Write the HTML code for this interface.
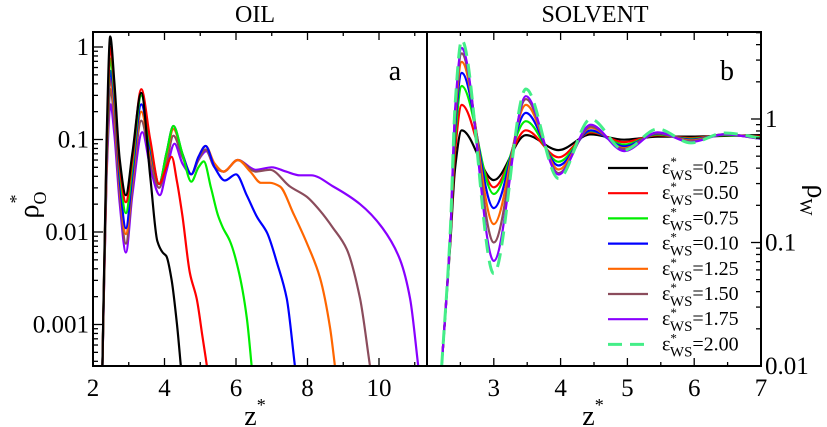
<!DOCTYPE html>
<html><head><meta charset="utf-8"><style>
html,body{margin:0;padding:0;background:#fff}
svg{display:block}
svg text{font-family:"Liberation Serif","DejaVu Serif",serif}
</style></head><body>
<svg id="chart" width="827" height="427" viewBox="0 0 827 427">
<defs>
<clipPath id="clipA"><rect x="93" y="32" width="334" height="334"/></clipPath>
<clipPath id="clipB"><rect x="427" y="32" width="334" height="334"/></clipPath>
</defs>
<g id="layer"></g>
</svg>
<script>
// ---- Panel a (OIL) data ----
const oilColors = ["#000000","#ff0000","#00ee00","#0000ff","#ff6600","#8b4c5c","#8800ff"];
const oilZ0 = [2.26,2.38,2.48,2.6,2.75,2.92,3.1,3.35,3.6,3.8,3.95,4.05,4.2,4.35,4.46];
const oilR0 = [3e-4,0.1,1.3,0.4,0.06,0.025,0.07,0.32,0.04,0.008,0.006,0.0055,0.003,0.001,3.5e-4];
const oilZ1 = [2.26,2.38,2.49,2.6,2.75,2.92,3.1,3.35,3.6,3.85,4.05,4.2,4.35,4.5,4.71,4.9,5.05,5.19];
const oilR1 = [3e-4,0.08,1.0,0.35,0.05,0.021,0.06,0.35,0.1,0.033,0.05,0.065,0.035,0.015,0.0036,0.0019,0.0008,3.5e-4];
const oilZ2 = [2.26,2.38,2.49,2.6,2.75,2.92,3.1,3.35,3.6,3.85,4.05,4.25,4.5,4.75,4.95,5.1,5.3,5.5,5.64,5.83,6.06,6.3,6.44];
const oilR2 = [3e-4,0.07,0.75,0.3,0.045,0.016,0.05,0.3,0.09,0.033,0.07,0.14,0.07,0.035,0.05,0.058,0.03,0.015,0.011,0.008,0.004,0.0012,3.5e-4];
const oilZ3 = [2.26,2.38,2.49,2.6,2.75,2.92,3.1,3.35,3.6,3.85,4.05,4.25,4.5,4.75,4.95,5.15,5.4,5.69,6.0,6.3,6.59,6.87,7.15,7.42,7.65];
const oilR3 = [3e-4,0.06,0.55,0.25,0.035,0.011,0.04,0.24,0.08,0.033,0.07,0.14,0.07,0.042,0.065,0.085,0.05,0.036,0.042,0.025,0.0145,0.0098,0.0046,0.0019,3.5e-4];
const oilZ4 = [2.26,2.38,2.49,2.6,2.75,2.92,3.1,3.35,3.6,3.85,4.05,4.25,4.5,4.75,4.95,5.15,5.4,5.65,6.05,6.4,6.7,6.95,7.23,7.6,7.98,8.35,8.63,8.77];
const oilR4 = [3e-4,0.05,0.45,0.2,0.03,0.0095,0.035,0.2,0.07,0.033,0.065,0.13,0.07,0.042,0.065,0.085,0.055,0.045,0.06,0.045,0.034,0.034,0.031,0.016,0.0076,0.0032,9.3e-4,3.5e-4];
const oilZ5 = [2.26,2.38,2.49,2.6,2.75,2.92,3.1,3.35,3.6,3.85,4.05,4.25,4.5,4.75,4.95,5.15,5.4,5.65,6.05,6.55,6.95,7.51,7.98,8.35,8.72,9.1,9.47,9.75];
const oilR5 = [3e-4,0.045,0.35,0.15,0.025,0.0075,0.03,0.16,0.06,0.03,0.055,0.11,0.065,0.042,0.06,0.078,0.05,0.045,0.06,0.045,0.047,0.031,0.024,0.017,0.011,0.0065,0.0019,3.5e-4];
const oilZ6 = [2.26,2.38,2.49,2.6,2.75,2.92,3.1,3.38,3.6,3.87,4.05,4.28,4.5,4.75,4.95,5.17,5.4,5.65,6.05,6.55,7.0,7.4,7.79,8.1,8.72,9.47,10.1,10.59,10.87,11.1];
const oilR6 = [3e-4,0.04,0.24,0.11,0.02,0.006,0.025,0.12,0.05,0.025,0.045,0.09,0.055,0.042,0.06,0.075,0.05,0.045,0.06,0.047,0.05,0.045,0.041,0.041,0.031,0.02,0.011,0.005,0.0019,3.5e-4];
const oilZ = [oilZ0,oilZ1,oilZ2,oilZ3,oilZ4,oilZ5,oilZ6];
const oilR = [oilR0,oilR1,oilR2,oilR3,oilR4,oilR5,oilR6];
const oilXTicks = [2,4,6,8,10];
const oilYTicks = [1,0.1,0.01,0.001];

// ---- Panel b (SOLVENT) data ----
const solColors = ["#000000","#ff0000","#00ee00","#0000ff","#ff6600","#8b4c5c","#8800ff","#44ee88"];
const solLabels = ["0.25","0.50","0.75","0.10","1.25","1.50","1.75","2.00"];
const solZ = [2.22,2.35,2.42,2.52,3.0,3.48,3.97,4.45,4.95,5.45,5.95,6.45,7.0];
const solR0 = [0.01,0.1,0.4,0.81,0.32,0.74,0.56,0.75,0.68,0.72,0.72,0.73,0.74];
const solR1 = [0.01,0.11,0.55,1.3,0.28,0.81,0.49,0.78,0.65,0.74,0.7,0.74,0.72];
const solR2 = [0.01,0.12,0.7,1.85,0.247,0.96,0.45,0.8,0.62,0.75,0.69,0.74,0.71];
const solR3 = [0.01,0.12,0.85,2.36,0.19,1.12,0.42,0.81,0.6,0.76,0.68,0.75,0.7];
const solR4 = [0.01,0.12,1.0,2.9,0.141,1.3,0.39,0.85,0.58,0.77,0.67,0.75,0.7];
const solR5 = [0.01,0.12,1.1,3.4,0.1,1.45,0.365,0.87,0.57,0.77,0.66,0.75,0.69];
const solR6 = [0.01,0.12,1.2,3.76,0.071,1.53,0.355,0.9,0.55,0.78,0.65,0.75,0.69];
const solR7 = [0.01,0.13,1.3,4.36,0.056,1.75,0.33,1.0,0.56,0.83,0.64,0.77,0.7];
const solR = [solR0,solR1,solR2,solR3,solR4,solR5,solR6,solR7];
const solXTicks = [3,4,5,6,7];
const solYTicks = [1,0.1,0.01];

const NS="http://www.w3.org/2000/svg";
const layer=document.getElementById('layer');
function mk(tag,attrs,parent){const e=document.createElementNS(NS,tag);for(const k in attrs)e.setAttribute(k,attrs[k]);(parent||layer).appendChild(e);return e;}

// axis functions
const ax = z => 93 + (z-2)*35.75;
const ay = r => 47 - Math.log10(r)*92.5;
const bx = z => 427 + (z-2)*66.8;
const by = r => 119 - Math.log10(r)*123.5;

// monotone cubic (Fritsch-Carlson) in pixel space
function spline(pts){
  const n=pts.length, dx=[], m=[], d=[];
  for(let i=0;i<n-1;i++){dx[i]=pts[i+1][0]-pts[i][0];m[i]=(pts[i+1][1]-pts[i][1])/dx[i];}
  d[0]=m[0]; d[n-1]=m[n-2];
  for(let i=1;i<n-1;i++){
    if(m[i-1]*m[i]<=0) d[i]=0;
    else{const w1=2*dx[i]+dx[i-1],w2=dx[i]+2*dx[i-1];d[i]=(w1+w2)/(w1/m[i-1]+w2/m[i]);}
  }
  let s="M"+pts[0][0].toFixed(1)+","+pts[0][1].toFixed(1);
  for(let i=0;i<n-1;i++){
    const h=dx[i]/3;
    s+=" C"+(pts[i][0]+h).toFixed(1)+","+(pts[i][1]+d[i]*h).toFixed(1)+" "+(pts[i+1][0]-h).toFixed(1)+","+(pts[i+1][1]-d[i+1]*h).toFixed(1)+" "+pts[i+1][0].toFixed(1)+","+pts[i+1][1].toFixed(1);
  }
  return s;
}

// Panel a curves
const gA=mk('g',{'clip-path':'url(#clipA)'});


for(let s=oilZ.length-1;s>=0;s--){
  const pts=oilZ[s].map((z,i)=>[ax(z),ay(oilR[s][i])]);
  const p=mk('path',{d:spline(pts),fill:'none',stroke:oilColors[s],'stroke-width':2.2},gA);
  
  
}
// Panel b curves
const gB=mk('g',{'clip-path':'url(#clipB)'});


for(let s=0;s<solR.length;s++){
  const pts=solZ.map((z,i)=>[bx(z),by(solR[s][i])]);
  const attrs={d:spline(pts),fill:'none',stroke:solColors[s],'stroke-width':s==7?3:2.2};
  if(s==7)attrs['stroke-dasharray']='14,8';
  const p=mk('path',attrs,gB);
  
  
}

// frames
const fa=mk('rect',{x:93,y:32,width:334,height:334,fill:'none',stroke:'#000','stroke-width':2});


const fb=mk('rect',{x:427,y:32,width:334,height:334,fill:'none',stroke:'#000','stroke-width':2});



function line(x1,y1,x2,y2){mk('line',{x1,y1,x2,y2,stroke:'#000','stroke-width':1.3});}
function text(x,y,t,anchor,size,name){const e=mk('text',{x,y,'text-anchor':anchor||'middle','font-size':size||24,fill:'#000'});e.textContent=t;return e;}

// Panel a ticks
for(let z=2;z<=11;z++){
  const len=(z%2==0)?8:4;
  line(ax(z),366,ax(z),366-len); line(ax(z),32,ax(z),32+len);
}
oilXTicks.forEach(z=>text(ax(z),396,String(z),'middle',25,'oil-x-tick-label'));
for(let dec=-4;dec<=0;dec++){
  for(let m=1;m<=9;m++){
    const r=m*Math.pow(10,dec), y=ay(r);
    if(y<32||y>366)continue;
    line(93,y,93+(m==1?10:5),y);
  }
}
oilYTicks.forEach(r=>text(89,ay(r)+8,String(r),'end',25,'oil-y-tick-label'));

// Panel b ticks
for(let z=2.5;z<=7;z+=0.5){
  const len=(Math.abs(z-Math.round(z))<0.01)?8:4;
  line(bx(z),366,bx(z),366-len); line(bx(z),32,bx(z),32+len);
}
solXTicks.forEach(z=>text(bx(z),396,String(z),'middle',25,'solvent-x-tick-label'));
for(let dec=-2;dec<=0;dec++){
  for(let m=1;m<=9;m++){
    const r=m*Math.pow(10,dec), y=by(r);
    if(y<32||y>366)continue;
    line(761,y,761-(m==1?10:5),y);
  }
}
solYTicks.forEach(r=>text(765,by(r)+8,String(r),'start',25,'solvent-y-tick-label'));

// titles and panel letters
text(255,22,'OIL','middle',24,'oil-title');
text(595,22,'SOLVENT','middle',24,'solvent-title');
text(395,80,'a','middle',28,'panel-a-label');
text(727,80,'b','middle',28,'panel-b-label');

// axis titles
const xa=mk('text',{x:255,y:425,'text-anchor':'middle','font-size':28});
xa.innerHTML='z<tspan dy="-14" font-size="18">*</tspan>';


const xb=mk('text',{x:593,y:425,'text-anchor':'middle','font-size':28});
xb.innerHTML='z<tspan dy="-14" font-size="18">*</tspan>';


const ya=mk('text',{x:0,y:0,'text-anchor':'middle','font-size':28,transform:'translate(38,205) rotate(-90)'});
ya.innerHTML='ρ<tspan dy="8" font-size="18">O</tspan><tspan dx="-12" dy="-24" font-size="18">*</tspan>';


const yb=mk('text',{x:0,y:0,'text-anchor':'middle','font-size':28,transform:'translate(808,200) rotate(90)'});
yb.innerHTML='ρ<tspan dy="8" font-size="18">W</tspan><tspan dx="-16" dy="-24" font-size="18">*</tspan>';



// legend
const lg=mk('g',{});


for(let s=0;s<solLabels.length;s++){
  const y=168+s*25.2;
  const la={x1:608,y1:y,x2:648,y2:y,stroke:solColors[s],'stroke-width':s==7?3:2.2};
  if(s==7)la['stroke-dasharray']='14,8';
  const l=mk('line',la,lg);
  
  
  const t=mk('text',{x:662,y:y+6,'font-size':20},lg);
  t.innerHTML='ε<tspan dy="-8" font-size="13">*</tspan><tspan dx="-7" dy="14" font-size="15">WS</tspan><tspan dy="-6">='+solLabels[s]+'</tspan>';
  
  
}
</script>
</body></html>
